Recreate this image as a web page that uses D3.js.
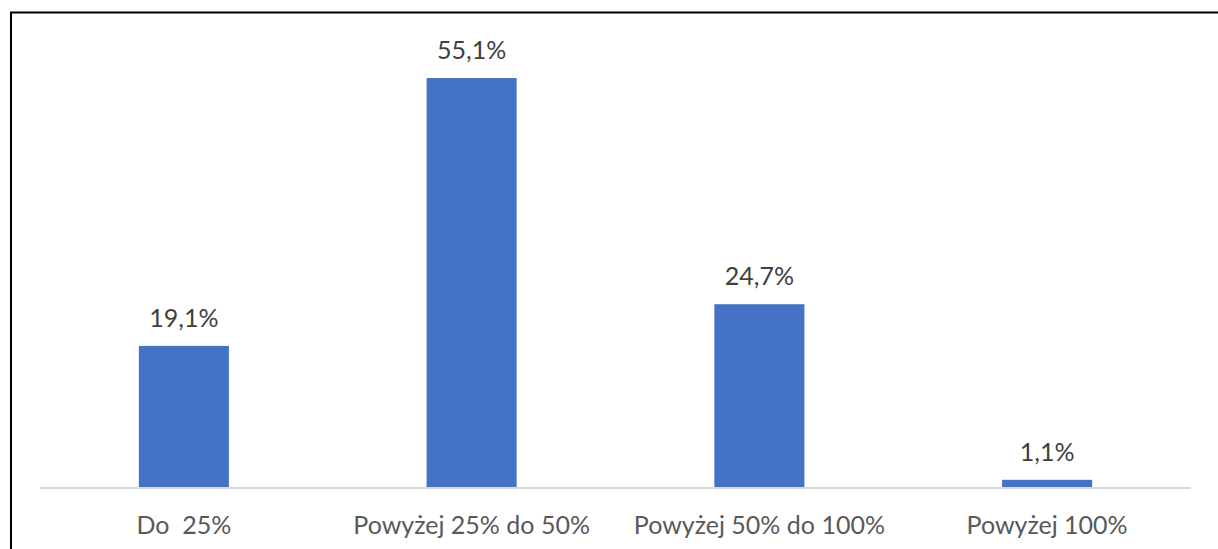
<!DOCTYPE html>
<html><head><meta charset="utf-8">
<script src="https://cdn.jsdelivr.net/npm/d3@7"></script>
<style>body{margin:0;background:#fff}svg{display:block}text{white-space:pre}</style>
</head><body>
<svg id="c" width="1218" height="549"></svg>
<script>
const categories = ["Do  25%", "Powyżej 25% do 50%", "Powyżej 50% do 100%", "Powyżej 100%"];
const values = [19.1, 55.1, 24.7, 1.1];
const valueLabels = ["19,1%", "55,1%", "24,7%", "1,1%"];

const svg = d3.select("#c");
const font = "Lato, 'Open Sans', sans-serif";

svg.append("rect").attr("x", 11).attr("y", 12.5).attr("width", 1230).attr("height", 560)
  .attr("fill", "#fff").attr("stroke", "#000").attr("stroke-width", 2);

const x = d3.scaleBand().domain(categories).range([40, 1191]).paddingInner(0.687).paddingOuter(0.3435);
const y = d3.scaleLinear().domain([0, 60]).range([488, 41.6]);

const g = svg.append("g");
g.selectAll("rect.bar").data(values).join("rect").attr("class", "bar")
  .attr("x", (d, i) => x(categories[i]))
  .attr("width", x.bandwidth())
  .attr("y", d => y(d))
  .attr("height", d => y(0) - y(d))
  .attr("fill", "#4472C4");

const axis = d3.axisBottom(x).tickSize(0).tickPadding(0);
const ax = svg.append("g").attr("transform", `translate(0,${y(0)})`).call(axis);
ax.select(".domain").attr("stroke", "#d9d9d9").attr("stroke-width", 2).attr("d", "M40,0H1191");
ax.selectAll(".tick text").attr("y", 46).attr("dy", 0)
  .attr("font-family", font).attr("font-size", 25).attr("fill", "#595959")
  .style("white-space", "pre");

g.selectAll("text.val").data(values).join("text").attr("class", "val")
  .attr("x", (d, i) => x(categories[i]) + x.bandwidth() / 2)
  .attr("y", d => y(d) - 19)
  .attr("text-anchor", "middle")
  .attr("font-family", font).attr("font-size", 25).attr("fill", "#404040")
  .text((d, i) => valueLabels[i]);
</script>
</body></html>
